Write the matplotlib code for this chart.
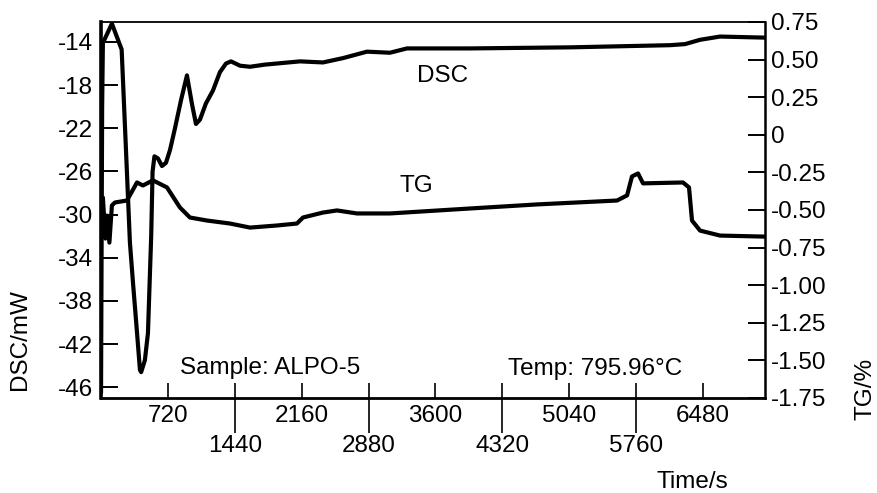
import matplotlib.pyplot as plt

plt.rcParams['font.family'] = ['Liberation Sans', 'DejaVu Sans']
plt.rcParams['font.size'] = 17.5

# DSC curve (left axis), time in s, mW
dsc_t = [0, 12, 20, 117, 222, 268, 311, 343, 387, 419, 432, 472, 505, 540, 555,
         575, 613, 656, 699, 743, 796, 861, 925, 980, 1022, 1065, 1129, 1205,
         1280, 1345, 1399, 1496, 1604, 1765, 2142, 2389, 2604, 2863, 3110, 3294,
         3972, 5049, 6126, 6287, 6449, 6664, 7148]
dsc_mw = [-46.5, -20.0, -14.1, -12.3, -14.7, -23.9, -32.6, -36.2, -40.9, -44.4,
          -44.6, -43.5, -41.0, -32.0, -26.0, -24.6, -24.8, -25.5, -25.2, -24.0,
          -22.0, -19.4, -17.1, -19.8, -21.6, -21.2, -19.7, -18.5, -16.8, -16.0,
          -15.8, -16.2, -16.3, -16.1, -15.8, -15.9, -15.5, -14.9, -15.0, -14.6,
          -14.6, -14.5, -14.3, -14.2, -13.8, -13.5, -13.6]

# TG curve (right axis), %
tg_t = [0, 20, 47, 64, 90, 117, 150, 279, 387, 451, 559, 710, 849, 957, 1140,
        1388, 1604, 1894, 2109, 2174, 2389, 2540, 2755, 3110, 3972, 4693, 5555,
        5663, 5716, 5781, 5835, 6265, 6330, 6362, 6449, 6664, 7148]
tg_pct = [-0.437, -0.417, -0.69, -0.537, -0.717, -0.47, -0.45, -0.437, -0.317,
          -0.337, -0.303, -0.35, -0.483, -0.55, -0.57, -0.59, -0.617, -0.603,
          -0.59, -0.55, -0.517, -0.503, -0.523, -0.523, -0.49, -0.463, -0.437,
          -0.403, -0.277, -0.257, -0.323, -0.317, -0.35, -0.57, -0.637, -0.67,
          -0.677]

x_upper = [720, 2160, 3600, 5040, 6480]
x_lower = [1440, 2880, 4320, 5760]
dsc_ticks = [-14, -18, -22, -26, -30, -34, -38, -42, -46]
tg_ticks = [0.75, 0.5, 0.25, 0, -0.25, -0.5, -0.75, -1.0, -1.25, -1.5, -1.75]
tg_labels = ['0.75', '0.50', '0.25', '0', '-0.25', '-0.50', '-0.75', '-1.00',
             '-1.25', '-1.50', '-1.75']

fig = plt.figure(figsize=(8.77, 4.93), dpi=100)
ax = fig.add_axes([0.1152, 0.1927, 0.7571, 0.7627])
ax2 = ax.twinx()

ax.plot(dsc_t, dsc_mw, color='black', lw=3.0, solid_joinstyle='round', solid_capstyle='round')
ax2.plot(tg_t, tg_pct, color='black', lw=3.0, solid_joinstyle='round', solid_capstyle='round')

ax.set_xlim(0, 7148)
ax.set_ylim(-47.0, -12.15)
ax2.set_ylim(-1.75, 0.75)

# x ticks: two rows of labels
all_x = sorted(x_upper + x_lower)
ax.set_xticks(all_x, labels=[str(v) if v in x_upper else '' for v in all_x])
ax.set_xticks(x_lower, labels=[str(v) for v in x_lower], minor=True)
ax.xaxis.remove_overlapping_locs = False
ax.tick_params(axis='x', which='major', direction='in', length=11, width=1.2, pad=5)
ax.tick_params(axis='x', which='minor', direction='out', length=25, width=1.2, pad=2)

ax.set_yticks(dsc_ticks, labels=[str(v) for v in dsc_ticks])
ax.tick_params(axis='y', direction='in', length=12, width=1.4, pad=6)
ax2.set_yticks(tg_ticks, labels=tg_labels)
ax2.tick_params(axis='y', direction='in', length=12, width=1.4, pad=4)

ax.spines['left'].set_linewidth(2.6)
ax.spines['bottom'].set_linewidth(2.0)
ax.spines['top'].set_linewidth(1.3)
ax.spines['right'].set_visible(False)
for s in ['left', 'top', 'bottom']:
    ax2.spines[s].set_visible(False)
ax2.spines['right'].set_linewidth(1.8)

ax.text(0.476, 0.840, 'DSC', transform=ax.transAxes, va='baseline')
ax.text(0.450, 0.548, 'TG', transform=ax.transAxes, va='baseline')
ax.text(0.119, 0.064, 'Sample: ALPO-5', transform=ax.transAxes, va='baseline')
ax.text(0.613, 0.061, 'Temp: 795.96°C', transform=ax.transAxes, va='baseline')

fig.text(20 / 877, 1 - 340 / 493, 'DSC/mW', rotation=90, ha='center', va='center')
fig.text(866 / 877, 1 - 389 / 493, 'TG/%', rotation=90, ha='center', va='center')
fig.text(728 / 877, 5 / 493, 'Time/s', ha='right', va='baseline')

fig.savefig('out.png', dpi=100)
